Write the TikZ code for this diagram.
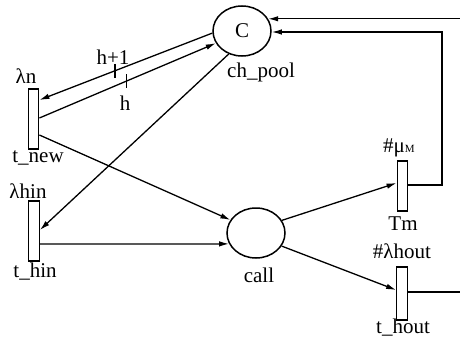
\documentclass[tikz,border=0pt]{standalone}
\usepackage{fontspec}
\setmainfont{Liberation Serif}
\usetikzlibrary{shapes.geometric,arrows.meta,calc}
\begin{document}
\begin{tikzpicture}[x=1pt,y=-1pt,
  lab/.style={font=\fontsize{21}{24}\selectfont, inner sep=0pt},
  place/.style={draw, ellipse, line width=1.5pt, minimum width=58pt, minimum height=50pt, inner sep=0pt, font=\fontsize{21}{24}\selectfont},
  trans/.style={draw, rectangle, line width=1.3pt, inner sep=0pt, minimum width=10.5pt},
  arc/.style={line width=1.3pt, -{Latex[length=10pt,width=5.5pt]}},
  plain/.style={line width=1.3pt},
  tick/.style={line width=1.3pt}]
\useasboundingbox (0,0) rectangle (460,340);
% places
\node[place] (ch_pool) at (242,31) {C};
\node[place] (call) at (256,233) {};
% transitions
\node[trans, minimum height=60pt] (t_new) at (33.5,119) {};
\node[trans, minimum height=60pt] (t_hin) at (34,231) {};
\node[trans, minimum height=50pt] (Tm) at (402.5,186) {};
\node[trans, minimum height=53pt] (t_hout) at (402,293.5) {};
% labels
\node[lab] (l_chpool) at (261,72) {ch\_pool};
\node[lab] (l_call) at (259,275) {call};
\node[lab] (l_ln) at (26,76) {λn};
\node[lab] (l_tnew) at (38,158) {t\_new};
\node[lab] (l_lhin) at (28,191) {λhin};
\node[lab] (l_thin) at (35,272) {t\_hin};
\node[lab] (l_mu) at (399,148) {\#μ{\fontsize{11}{12}\selectfont M}};
\node[lab] (l_tm) at (403,224) {Tm};
\node[lab] (l_lhout) at (402,251) {\#λhout};
\node[lab] (l_thout) at (403,328) {t\_hout};
\node[lab] (l_h1) at (113,57) {h+1};
\node[lab] (l_h) at (125,103) {h};
% free ends
\coordinate (inR) at (460,19);
\coordinate (outR) at (460,292);
\coordinate (tmcorner) at (442,32);
% arcs
\draw[arc] (ch_pool.184) -- coordinate[pos=0.563] (tk1) ($(t_new.east)+(0,-19)$);
\draw[arc] ($(t_new.east)+(0,-1)$) -- coordinate[pos=0.494] (tk2) (ch_pool.205);
\draw[tick] ($(tk1)+(0,-7)$) -- ($(tk1)+(0,7)$);
\draw[tick] ($(tk2)+(0,-7)$) -- ($(tk2)+(0,7)$);
\draw[arc] ($(t_new.east)+(0,16)$) -- (call.153);
\draw[arc] (ch_pool.240) -- ($(t_hin.east)+(0,-1)$);
\draw[arc] ($(t_hin.east)+(0,13)$) -- (call.202);
\draw[arc] (call.26) -- ($(Tm.west)+(0,-3)$);
\draw[arc] (call.333) -- ($(t_hout.west)+(0,-3.5)$);
\draw[arc] ($(Tm.east)+(0,-1)$) -| (tmcorner) -- (tmcorner -| ch_pool.east);
\draw[arc] (ch_pool.25 -| inR) -- (ch_pool.25);
\draw[plain] ($(t_hout.east)+(0,-1.5)$) -- (outR);
\end{tikzpicture}
\end{document}
